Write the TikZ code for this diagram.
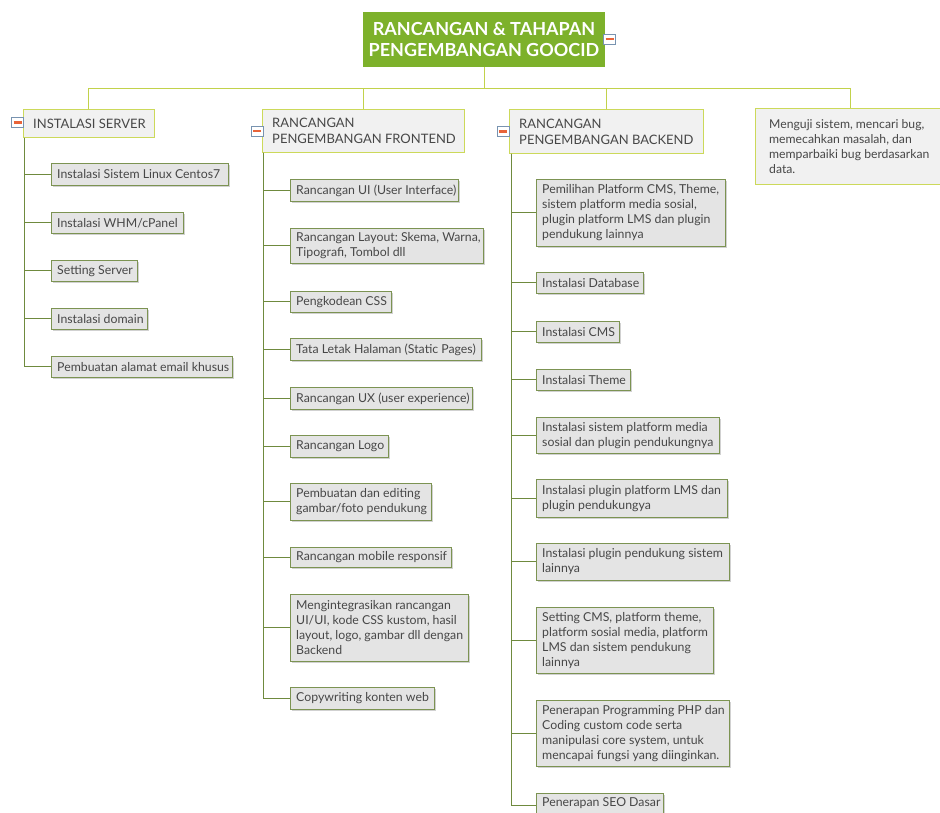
\documentclass[tikz,border=0pt]{standalone}
\usepackage{fontspec}
\setmainfont{Lato}
\usetikzlibrary{shadows}
\frenchspacing
\definecolor{titlegreen}{HTML}{7DB12B}
\definecolor{busline}{HTML}{C2D24B}
\definecolor{hdrborder}{HTML}{CCD95A}
\definecolor{hdrfill}{HTML}{F1F1F1}
\definecolor{kidborder}{HTML}{7C9352}
\definecolor{kidfill}{HTML}{E4E4E4}
\definecolor{trunkline}{HTML}{6F8A3E}
\definecolor{txt}{HTML}{474747}
\definecolor{togblue}{HTML}{7893B0}
\definecolor{togred}{HTML}{E8643A}
\tikzset{
  titlebox/.style={fill=titlegreen, text=white, align=center, inner sep=0pt,
    font=\bfseries\fontsize{18}{21}\selectfont},
  hdrbox/.style={draw=hdrborder, fill=hdrfill, anchor=north west, inner sep=0pt, line width=0.8pt},
  hdrtext/.style={anchor=west, inner sep=0pt, align=left, text=txt, font=\fontsize{13}{16}\selectfont},
  notetext/.style={anchor=west, inner sep=0pt, align=left, text=txt, font=\fontsize{12.2}{15}\selectfont},
  kidbox/.style={draw=kidborder, fill=kidfill, anchor=north west, inner sep=0pt, line width=0.8pt,
    drop shadow={shadow xshift=1.2pt, shadow yshift=-1.2pt, fill=black, opacity=0.18}},
  kidtext/.style={anchor=west, inner sep=0pt, align=left, text=txt, font=\fontsize{12.3}{15}\selectfont},
  busl/.style={draw=busline, line width=0.9pt},
  trunkl/.style={draw=trunkline, line width=0.9pt},
  togbox/.style={draw=togblue, fill=white, minimum width=12pt, minimum height=10pt, inner sep=0pt, line width=0.9pt,
    path picture={\draw[togred, line width=2.2pt] ([xshift=2pt]path picture bounding box.west) -- ([xshift=-2pt]path picture bounding box.east);}}
}
% \mybox{boxstyle}{textstyle}{name}{x1}{y1}{x2}{y2}{padding}{text}
\newcommand\mybox[9]{%
  \pgfmathsetmacro\bw{#6-#4}\pgfmathsetmacro\bh{#7-#5}%
  \node[#1, minimum width=\bw pt, minimum height=\bh pt] (#3) at (#4,#5) {};
  \node[#2] (#3t) at ([xshift=#8pt]#3.west) {#9};}
\begin{document}
\begin{tikzpicture}[x=1pt,y=-1pt]
\useasboundingbox (0,0) rectangle (940,812);
\clip (0,0) rectangle (940,812);
\fill[white] (0,0) rectangle (940,812);

% title
\node[titlebox, minimum width=242pt, minimum height=55pt] (title) at (484,39.5) {RANCANGAN \& TAHAPAN\\PENGEMBANGAN GOOCID};
\node[togbox] (tg0) at (609.5,39) {};

% headers
\mybox{hdrbox}{hdrtext}{h1}{23}{109}{154}{137}{10}{INSTALASI SERVER}
\mybox{hdrbox}{hdrtext}{h2}{262}{109}{464}{152}{10}{RANCANGAN\\PENGEMBANGAN FRONTEND}
\mybox{hdrbox}{hdrtext}{h3}{509}{109}{703}{153}{10}{RANCANGAN\\PENGEMBANGAN BACKEND}
\mybox{hdrbox}{notetext}{h4}{755}{108}{945}{184}{14}{Menguji sistem, mencari bug,\\memecahkan masalah, dan\\memparbaiki bug berdasarkan\\data.}
\node[togbox] (tg1) at (17.5,122.5) {};
\node[togbox] (tg2) at (257,131) {};
\node[togbox] (tg3) at (503,131.5) {};

% bus lines
\coordinate (bus) at (0,88);
\draw[busl] (title.south) -- (title.south |- bus);
\draw[busl] (h1.north) -- (h1.north |- bus) -- (h4.north |- bus) -- (h4.north);
\draw[busl] (h2.north) -- (h2.north |- bus);
\draw[busl] (h3.north) -- (h3.north |- bus);

% column 1
\mybox{kidbox}{kidtext}{a1}{51}{163}{228}{185}{6}{Instalasi Sistem Linux Centos7}
\mybox{kidbox}{kidtext}{a2}{51}{212}{183}{233}{6}{Instalasi WHM/cPanel}
\mybox{kidbox}{kidtext}{a3}{51}{260}{137}{281}{6}{Setting Server}
\mybox{kidbox}{kidtext}{a4}{51}{308}{147}{329}{6}{Instalasi domain}
\mybox{kidbox}{kidtext}{a5}{51}{356}{232}{377}{6}{Pembuatan alamat email khusus}

% column 2
\mybox{kidbox}{kidtext}{b1}{290}{179}{458}{201}{6}{Rancangan UI (User Interface)}
\mybox{kidbox}{kidtext}{b2}{290}{228}{483}{263}{6}{Rancangan Layout: Skema, Warna,\\Tipografi, Tombol dll}
\mybox{kidbox}{kidtext}{b3}{290}{291}{391}{312}{6}{Pengkodean CSS}
\mybox{kidbox}{kidtext}{b4}{290}{338}{481}{360}{6}{Tata Letak Halaman (Static Pages)}
\mybox{kidbox}{kidtext}{b5}{290}{387}{472}{409}{6}{Rancangan UX (user experience)}
\mybox{kidbox}{kidtext}{b6}{290}{435}{388}{457}{6}{Rancangan Logo}
\mybox{kidbox}{kidtext}{b7}{290}{483}{431}{520}{6}{Pembuatan dan editing\\gambar/foto pendukung}
\mybox{kidbox}{kidtext}{b8}{290}{547}{451}{567}{6}{Rancangan mobile responsif}
\mybox{kidbox}{kidtext}{b9}{290}{594}{468}{661}{6}{Mengintegrasikan rancangan\\UI/UI, kode CSS kustom, hasil\\layout, logo, gambar dll dengan\\Backend}
\mybox{kidbox}{kidtext}{b10}{290}{687}{434}{709}{6}{Copywriting konten web}

% column 3
\mybox{kidbox}{kidtext}{c1}{536}{179}{725}{246}{6}{Pemilihan Platform CMS, Theme,\\sistem platform media sosial,\\plugin platform LMS dan plugin\\pendukung lainnya}
\mybox{kidbox}{kidtext}{c2}{536}{272}{643}{293}{6}{Instalasi Database}
\mybox{kidbox}{kidtext}{c3}{536}{321}{619}{342}{6}{Instalasi CMS}
\mybox{kidbox}{kidtext}{c4}{536}{369}{630}{390}{6}{Instalasi Theme}
\mybox{kidbox}{kidtext}{c5}{536}{417}{719}{453}{6}{Instalasi sistem platform media\\sosial dan plugin pendukungnya}
\mybox{kidbox}{kidtext}{c6}{536}{479}{727}{517}{6}{Instalasi plugin platform LMS dan\\plugin pendukungya}
\mybox{kidbox}{kidtext}{c7}{536}{543}{729}{580}{6}{Instalasi plugin pendukung sistem\\lainnya}
\mybox{kidbox}{kidtext}{c8}{536}{607}{713}{673}{6}{Setting CMS, platform theme,\\platform sosial media, platform\\LMS dan sistem pendukung\\lainnya}
\mybox{kidbox}{kidtext}{c9}{536}{700}{729}{766}{6}{Penerapan Programming PHP dan\\Coding custom code serta\\manipulasi core system, untuk\\mencapai fungsi yang diinginkan.}
\mybox{kidbox}{kidtext}{c10}{536}{793}{663}{813}{6}{Penerapan SEO Dasar}

% trunks
\coordinate (t1) at ([xshift=1pt]h1.south west);
\coordinate (t2) at ([xshift=1pt]h2.south west);
\coordinate (t3) at ([xshift=2pt]h3.south west);
\foreach \k in {a1,a2,a3,a4,a5} { \draw[trunkl] (t1) |- (\k.west); }
\foreach \k in {b1,b2,b3,b4,b5,b6,b7,b8,b9,b10} { \draw[trunkl] (t2) |- (\k.west); }
\foreach \k in {c1,c2,c3,c4,c5,c6,c7,c8,c9} { \draw[trunkl] (t3) |- (\k.west); }
\draw[trunkl] (t3) |- ([yshift=-2pt]c10.west);
\end{tikzpicture}
\end{document}
